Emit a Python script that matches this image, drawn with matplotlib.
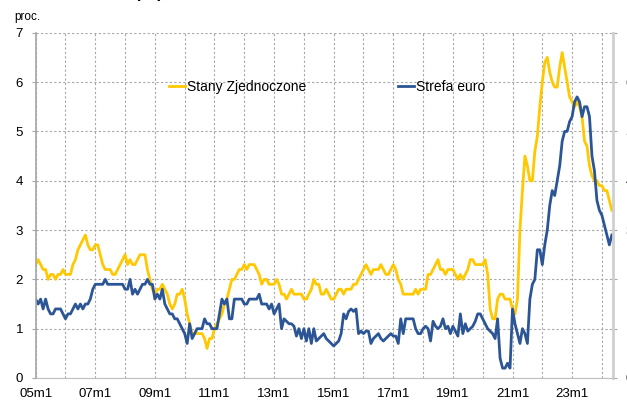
import numpy as np
import matplotlib.pyplot as plt

plt.rcParams['font.family'] = ['Liberation Sans', 'DejaVu Sans']

# inflacja bazowa r/r, miesiecznie 2005m1 - 2024m5
us = [2.3, 2.4, 2.3, 2.2, 2.2, 2.0, 2.1, 2.1, 2.0, 2.1, 2.1, 2.2,
      2.1, 2.1, 2.1, 2.3, 2.4, 2.6, 2.7, 2.8, 2.9, 2.7, 2.6, 2.6,
      2.7, 2.7, 2.5, 2.3, 2.2, 2.2, 2.2, 2.1, 2.1, 2.2, 2.3, 2.4,
      2.5, 2.3, 2.4, 2.3, 2.3, 2.4, 2.5, 2.5, 2.5, 2.2, 2.0, 1.8,
      1.7, 1.8, 1.8, 1.9, 1.8, 1.7, 1.5, 1.4, 1.5, 1.7, 1.7, 1.8,
      1.6, 1.3, 1.1, 0.9, 0.9, 0.9, 0.9, 0.9, 0.8, 0.6, 0.8, 0.8,
      1.0, 1.1, 1.2, 1.3, 1.5, 1.6, 1.8, 2.0, 2.0, 2.1, 2.2, 2.2,
      2.3, 2.2, 2.3, 2.3, 2.3, 2.2, 2.1, 1.9, 2.0, 2.0, 1.9, 1.9,
      1.9, 2.0, 1.9, 1.7, 1.7, 1.6, 1.7, 1.8, 1.7, 1.7, 1.7, 1.7,
      1.6, 1.6, 1.7, 1.8, 2.0, 1.9, 1.9, 1.7, 1.7, 1.8, 1.7, 1.6,
      1.6, 1.7, 1.8, 1.8, 1.7, 1.8, 1.8, 1.8, 1.9, 1.9, 2.0, 2.1,
      2.2, 2.3, 2.2, 2.1, 2.2, 2.2, 2.2, 2.3, 2.2, 2.1, 2.1, 2.2,
      2.3, 2.2, 2.0, 1.9, 1.7, 1.7, 1.7, 1.7, 1.7, 1.8, 1.7, 1.8,
      1.8, 1.8, 2.1, 2.1, 2.2, 2.3, 2.4, 2.2, 2.2, 2.1, 2.2, 2.2,
      2.2, 2.1, 2.0, 2.1, 2.0, 2.1, 2.2, 2.4, 2.4, 2.3, 2.3, 2.3,
      2.3, 2.4, 2.1, 1.4, 1.2, 1.2, 1.6, 1.7, 1.7, 1.6, 1.6, 1.6,
      1.4, 1.3, 1.6, 3.0, 3.8, 4.5, 4.3, 4.0, 4.0, 4.6, 4.9, 5.5,
      6.0, 6.4, 6.5, 6.2, 6.0, 5.9, 5.9, 6.3, 6.6, 6.3, 6.0, 5.7,
      5.6, 5.5, 5.6, 5.5, 5.3, 4.8, 4.7, 4.3, 4.1, 4.0, 4.0, 3.9,
      3.9, 3.8, 3.8, 3.6, 3.4]

ez = [1.6, 1.5, 1.6, 1.4, 1.6, 1.4, 1.3, 1.3, 1.4, 1.4, 1.4, 1.3,
      1.2, 1.3, 1.3, 1.4, 1.5, 1.4, 1.5, 1.4, 1.5, 1.5, 1.6, 1.8,
      1.9, 1.9, 1.9, 1.9, 2.0, 1.9, 1.9, 1.9, 1.9, 1.9, 1.9, 1.9,
      1.8, 1.8, 2.0, 1.7, 1.8, 1.7, 1.8, 1.9, 1.9, 2.0, 1.9, 1.9,
      1.6, 1.7, 1.6, 1.8, 1.5, 1.4, 1.3, 1.3, 1.2, 1.2, 1.1, 1.0,
      0.9, 0.7, 1.1, 0.8, 0.9, 1.0, 1.0, 1.0, 1.2, 1.1, 1.1, 1.0,
      1.0, 1.0, 1.3, 1.6, 1.5, 1.6, 1.2, 1.2, 1.6, 1.6, 1.6, 1.6,
      1.5, 1.5, 1.6, 1.6, 1.6, 1.6, 1.7, 1.5, 1.5, 1.5, 1.4, 1.5,
      1.3, 1.4, 1.5, 1.0, 1.2, 1.15, 1.1, 1.1, 1.05, 0.85, 1.0, 0.8,
      1.0, 0.75, 1.0, 0.7, 1.0, 0.75, 0.8, 0.85, 0.9, 0.8, 0.75, 0.7,
      0.65, 0.7, 0.75, 0.9, 1.3, 1.2, 1.35, 1.4, 1.35, 1.4, 0.9, 0.95,
      0.9, 0.95, 0.95, 0.7, 0.8, 0.85, 0.9, 0.8, 0.75, 0.8, 0.85, 0.9,
      0.85, 0.85, 0.7, 1.2, 0.9, 1.2, 1.2, 1.2, 1.2, 1.0, 0.9, 0.9,
      1.0, 1.05, 1.0, 0.75, 1.15, 1.05, 1.0, 1.05, 1.2, 1.0, 1.05, 0.9,
      1.05, 0.95, 0.85, 1.3, 0.9, 1.1, 0.95, 1.0, 1.05, 1.15, 1.3, 1.3,
      1.2, 1.1, 1.0, 0.95, 0.9, 0.8, 1.2, 0.4, 0.2, 0.2, 0.3, 0.2,
      1.4, 1.1, 0.9, 0.7, 1.0, 0.9, 0.7, 1.6, 1.9, 2.0, 2.6, 2.6,
      2.3, 2.7, 3.0, 3.5, 3.8, 3.7, 4.0, 4.3, 4.8, 5.0, 5.0, 5.2,
      5.3, 5.6, 5.7, 5.6, 5.3, 5.5, 5.5, 5.3, 4.5, 4.2, 3.6, 3.4,
      3.3, 3.1, 2.9, 2.7, 2.9]

etykiety_x = ['05m1', '07m1', '09m1', '11m1', '13m1', '15m1',
              '17m1', '19m1', '21m1', '23m1']

nazwy = ['Stany Zjednoczone', 'Strefa euro']
kolory = ['#FFC800', '#2C5596']

x = np.arange(len(us))

fig = plt.figure(figsize=(6.27, 4.0), dpi=100)
ax = fig.add_axes([0.0569, 0.055, 0.9213, 0.863])

ax.plot(x, us, color=kolory[0], lw=2.0, label=nazwy[0])
ax.plot(x, ez, color=kolory[1], lw=2.0, label=nazwy[1])

ax.set_xlim(0, 232.6)
ax.set_ylim(0, 7)
ax.set_xticks(np.arange(0, 24 * len(etykiety_x), 24))
ax.set_xticklabels(etykiety_x)
ax.set_xticks(np.arange(12, 232, 24), minor=True)
ax.set_yticks(range(0, 8))

# siatka przerywana
ax.grid(True, which='both', axis='x', color='#a6a6a6', ls=(0, (2, 2)), lw=0.8)
ax.grid(True, which='major', axis='y', color='#a6a6a6', ls=(0, (2, 2)), lw=0.8)
ax.set_axisbelow(True)

ax.spines['top'].set_visible(False)
ax.spines['left'].set_color('#a6a6a6')
ax.spines['left'].set_linewidth(1.2)
ax.spines['right'].set_color('#cfcfcf')
ax.spines['right'].set_linewidth(2)
ax.spines['bottom'].set_color('#bfbfbf')
ax.spines['bottom'].set_linewidth(0.8)

ax.tick_params(axis='y', which='major', length=3, color='#a6a6a6', pad=6,
               labelsize=9.5, right=True, labelright=True)
ax.tick_params(axis='x', which='both', length=0, pad=7, labelsize=9.5)

ax.legend(loc='upper left', bbox_to_anchor=(0.2700, 0.7995),
          bbox_transform=fig.transFigure, ncol=2, frameon=False,
          handlelength=1.15, handletextpad=0.15, columnspacing=6.6,
          borderpad=0, borderaxespad=0, fontsize=10)

fig.text(0.022, 0.957, 'proc.', fontsize=8.5, va='center', ha='left')
fig.text(0.2376, 1.0 + 1.6 / 400, '(r/r)', fontsize=12, fontweight='bold',
         va='baseline', ha='center')

fig.savefig('out.png', dpi=100)
